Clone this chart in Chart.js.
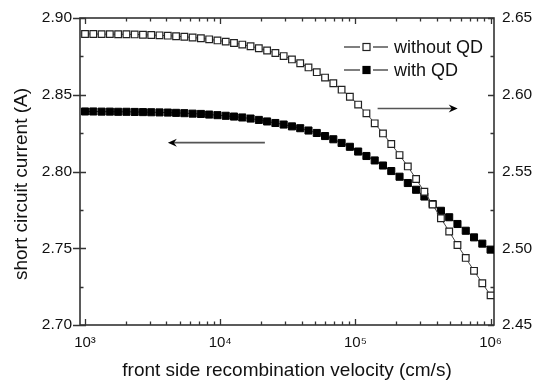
<!DOCTYPE html>
<html>
<head>
<meta charset="utf-8">
<script src="https://cdn.jsdelivr.net/npm/chart.js@4"></script>
<style>
  html, body { margin: 0; padding: 0; background: #fff; }
  #wrap { width: 544px; height: 383px; }
</style>
</head>
<body>
<div id="wrap"><canvas id="myChart" width="544" height="383"></canvas></div>
<script>
// front side recombination velocity (cm/s), 50 log-spaced points
const velocity = [
  1000, 1151, 1326, 1526, 1758, 2024, 2330, 2683, 3089, 3556,
  4095, 4715, 5429, 6251, 7197, 8286, 9541, 10986, 12649, 14564,
  16768, 19307, 22230, 25595, 29471, 33932, 39069, 44984, 51795, 59636,
  68665, 79060, 91030, 104811, 120679, 138950, 159986, 184207, 212095, 244205,
  281177, 323746, 372759, 429193, 494171, 568987, 655129, 754312, 868511, 1000000
]

// short circuit current (A), left axis
const withQD = [
  2.8391, 2.8391, 2.8390, 2.8390, 2.8389, 2.8389, 2.8388, 2.8387, 2.8386, 2.8385,
  2.8384, 2.8382, 2.8380, 2.8377, 2.8375, 2.8371, 2.8367, 2.8363, 2.8358, 2.8352,
  2.8345, 2.8336, 2.8326, 2.8316, 2.8306, 2.8294, 2.8282, 2.8267, 2.8251, 2.8231,
  2.8210, 2.8186, 2.8161, 2.8130, 2.8101, 2.8072, 2.8039, 2.8003, 2.7966, 2.7925,
  2.7881, 2.7837, 2.7788, 2.7744, 2.7702, 2.7658, 2.7614, 2.7571, 2.7530, 2.7491
]

// short circuit current (A), right axis
const withoutQD = [
  2.6396, 2.6396, 2.6395, 2.6395, 2.6394, 2.6394, 2.6393, 2.6391, 2.6389, 2.6387,
  2.6385, 2.6381, 2.6378, 2.6373, 2.6368, 2.6361, 2.6354, 2.6346, 2.6337, 2.6327,
  2.6316, 2.6303, 2.6288, 2.6272, 2.6252, 2.6230, 2.6205, 2.6178, 2.6147, 2.6112,
  2.6075, 2.6033, 2.5987, 2.5936, 2.5879, 2.5814, 2.5748, 2.5679, 2.5607, 2.5533,
  2.5451, 2.5368, 2.5285, 2.5195, 2.5109, 2.5021, 2.4937, 2.4853, 2.4772, 2.4693
]

const xTicks = [1e3, 1e4, 1e5, 1e6]
const leftTicks = [2.70, 2.75, 2.80, 2.85, 2.90]
const rightTicks = [2.45, 2.50, 2.55, 2.60, 2.65]
const seriesNames = ['without QD', 'with QD']

// arrows telling which axis each curve belongs to
const arrowLeft = { axis: 'y', from: [21400, 2.8188], to: [4100, 2.8188] }
const arrowRight = { axis: 'y2', from: [146000, 2.591], to: [571000, 2.591] }

const sup = { 3: '\u00B3', 4: '\u2074', 5: '\u2075', 6: '\u2076' }
const FONT = "'Liberation Sans', Arial, Helvetica, sans-serif"
Chart.defaults.font.family = FONT
Chart.defaults.color = '#111'

const axisColor = '#333'

const drawArrow = (chart, a) => {
    const ctx = chart.ctx
    const xs = chart.scales.x
    const ys = chart.scales[a.axis]
    const x1 = xs.getPixelForValue(a.from[0]), y1 = ys.getPixelForValue(a.from[1])
    const x2 = xs.getPixelForValue(a.to[0]), y2 = ys.getPixelForValue(a.to[1])
    const dir = Math.sign(x2 - x1)
    ctx.save()
    ctx.strokeStyle = '#555'
    ctx.lineWidth = 1.6
    ctx.beginPath()
    ctx.moveTo(x1, y1)
    ctx.lineTo(x2 - dir * 4, y2)
    ctx.stroke()
    ctx.fillStyle = '#000'
    ctx.beginPath()
    ctx.moveTo(x2, y2)
    ctx.lineTo(x2 - dir * 9, y2 - 4)
    ctx.lineTo(x2 - dir * 6, y2)
    ctx.lineTo(x2 - dir * 9, y2 + 4)
    ctx.closePath()
    ctx.fill()
    ctx.restore()
}

const framePlugin = {
    id: 'frame',
    beforeDatasetsDraw(chart) {
        const { ctx, chartArea: a, scales } = chart
        ctx.save()
        ctx.strokeStyle = axisColor
        ctx.lineWidth = 1.6
        ctx.strokeRect(a.left, a.top, a.right - a.left, a.bottom - a.top)
        ctx.lineWidth = 1.3
        ctx.beginPath()
        // log ticks on bottom and top
        for (let d = 3; d <= 5; d++) {
            for (let m = 1; m <= 10; m++) {
                const v = m * Math.pow(10, d)
                const px = Math.round(scales.x.getPixelForValue(v)) + 0.5
                const len = (m === 1 || m === 10) ? 6 : 3.5
                ctx.moveTo(px, a.bottom); ctx.lineTo(px, a.bottom - len)
                ctx.moveTo(px, a.top); ctx.lineTo(px, a.top + len)
            }
        }
        // left axis
        leftTicks.forEach((v, i) => {
            const py = Math.round(scales.y.getPixelForValue(v)) + 0.5
            ctx.moveTo(a.left - 7, py); ctx.lineTo(a.left + 6, py)
            if (i < leftTicks.length - 1) {
                const pm = Math.round(scales.y.getPixelForValue((v + leftTicks[i + 1]) / 2)) + 0.5
                ctx.moveTo(a.left, pm); ctx.lineTo(a.left + 3.5, pm)
            }
        })
        // right axis
        rightTicks.forEach((v, i) => {
            const py = Math.round(scales.y2.getPixelForValue(v)) + 0.5
            ctx.moveTo(a.right, py); ctx.lineTo(a.right - 6, py)
            if (i < rightTicks.length - 1) {
                const pm = Math.round(scales.y2.getPixelForValue((v + rightTicks[i + 1]) / 2)) + 0.5
                ctx.moveTo(a.right, pm); ctx.lineTo(a.right - 3.5, pm)
            }
        })
        ctx.stroke()

        // y axis title
        ctx.fillStyle = '#111'
        ctx.font = `19px ${FONT}`
        ctx.textAlign = 'center'
        ctx.textBaseline = 'middle'
        ctx.translate(22, 184)
        ctx.rotate(-Math.PI / 2)
        ctx.fillText('short circuit current (A)', 0, 0)
        ctx.restore()
    },
    afterDatasetsDraw(chart) {
        const ctx = chart.ctx
        drawArrow(chart, arrowLeft)
        drawArrow(chart, arrowRight)

        // legend
        const rows = [47, 70]
        chart.data.datasets.forEach((ds, i) => {
            const y = rows[i]
            ctx.save()
            ctx.strokeStyle = '#555'
            ctx.lineWidth = 1.4
            ctx.beginPath()
            ctx.moveTo(344, y); ctx.lineTo(360, y)
            ctx.moveTo(373, y); ctx.lineTo(388, y)
            ctx.stroke()
            ctx.fillStyle = ds.pointBackgroundColor
            ctx.strokeStyle = ds.pointBorderColor
            ctx.lineWidth = 1.2
            ctx.fillRect(363, y - 3.5, 7, 7)
            ctx.strokeRect(363, y - 3.5, 7, 7)
            ctx.fillStyle = '#111'
            ctx.font = `18px ${FONT}`
            ctx.textAlign = 'left'
            ctx.textBaseline = 'middle'
            ctx.fillText(ds.label, 394, y + 1)
            ctx.restore()
        })
    }
}

const ctx = document.getElementById('myChart')

new Chart(ctx, {
    type: 'line',
    data: {
        datasets: [{
            label: seriesNames[0],
            data: velocity.map((v, i) => ({ x: v, y: withoutQD[i] })),
            yAxisID: 'y2',
            borderColor: '#444',
            borderWidth: 1,
            pointStyle: 'rect',
            pointRadius: 4.7,
            pointBackgroundColor: '#fff',
            pointBorderColor: '#222',
            pointBorderWidth: 1.2,
            tension: 0
        }, {
            label: seriesNames[1],
            data: velocity.map((v, i) => ({ x: v, y: withQD[i] })),
            yAxisID: 'y',
            borderColor: '#444',
            borderWidth: 1,
            pointStyle: 'rect',
            pointRadius: 5,
            pointBackgroundColor: '#000',
            pointBorderColor: '#000',
            pointBorderWidth: 1,
            tension: 0
        }]
    },
    options: {
        responsive: false,
        animation: false,
        devicePixelRatio: 1,
        layout: { padding: { top: 18, left: 0, right: 0, bottom: 0 } },
        plugins: {
            legend: { display: false },
            tooltip: { enabled: false }
        },
        scales: {
            x: {
                type: 'logarithmic',
                position: 'bottom',
                min: 918,
                max: 1.06e6,
                grid: { display: false, drawTicks: false },
                border: { display: false },
                afterBuildTicks: (s) => { s.ticks = xTicks.map(v => ({ value: v })) },
                afterFit: (s) => { s.height = 58 },
                ticks: {
                    autoSkip: false,
                    maxRotation: 0,
                    padding: 9,
                    font: { size: 15 },
                    color: '#111',
                    callback: (v) => '10' + sup[Math.round(Math.log10(v))]
                },
                title: {
                    display: true,
                    text: 'front side recombination velocity (cm/s)',
                    font: { size: 19 },
                    color: '#111',
                    padding: { top: 0, bottom: 1 }
                }
            },
            y: {
                position: 'left',
                min: 2.70,
                max: 2.90,
                grid: { display: false, drawTicks: false },
                border: { display: false },
                afterBuildTicks: (s) => { s.ticks = leftTicks.map(v => ({ value: v })) },
                afterFit: (s) => { s.width = 80 },
                ticks: {
                    padding: 8,
                    font: { size: 15.5 },
                    color: '#111',
                    callback: (v) => v.toFixed(2)
                }
            },
            y2: {
                position: 'right',
                min: 2.45,
                max: 2.65,
                grid: { display: false, drawTicks: false },
                border: { display: false },
                afterBuildTicks: (s) => { s.ticks = rightTicks.map(v => ({ value: v })) },
                afterFit: (s) => { s.width = 50 },
                ticks: {
                    padding: 8,
                    font: { size: 15.5 },
                    color: '#111',
                    callback: (v) => v.toFixed(2)
                }
            }
        }
    },
    plugins: [framePlugin]
})
</script>
</body>
</html>
